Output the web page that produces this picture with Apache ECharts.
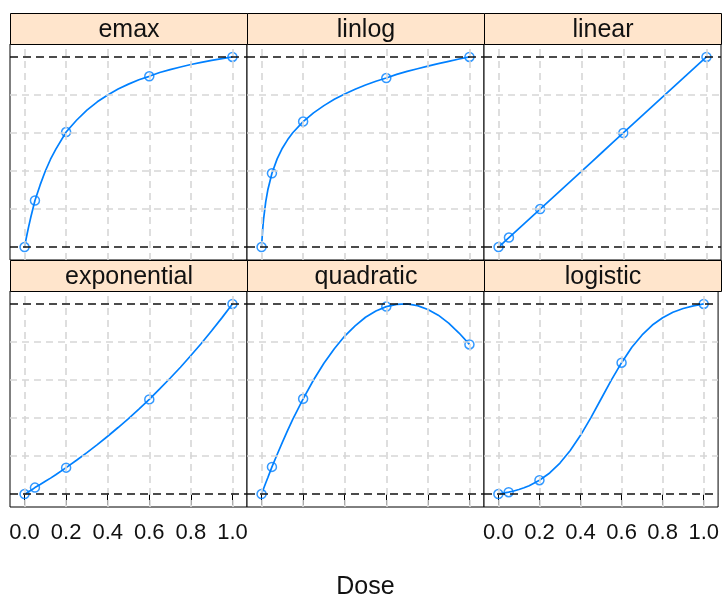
<!DOCTYPE html>
<html>
<head>
<meta charset="utf-8">
<script src="https://cdn.jsdelivr.net/npm/echarts@6/dist/echarts.min.js"></script>
<style>
  html, body { margin: 0; padding: 0; background: #fff; }
  #chart { width: 722px; height: 601px; }
</style>
</head>
<body>
<div id="chart"></div>
<script>
// panel names, in drawing order (top row, then bottom row)
const models = ['emax', 'linlog', 'linear', 'exponential', 'quadratic', 'logistic'];

// design doses (the open circles)
const doses = [0, 0.05, 0.2, 0.6, 1];

// doses where the model curves were read
const curveDose = [0, 0.005, 0.01, 0.02, 0.03, 0.05, 0.075, 0.1, 0.125, 0.15, 0.2, 0.25, 0.3, 0.35,
    0.4, 0.45, 0.5, 0.55, 0.6, 0.65, 0.7, 0.75, 0.8, 0.85, 0.9, 0.95, 1];

const emaxCurve = [0, 0.029, 0.057, 0.109, 0.157, 0.245, 0.327, 0.4, 0.462, 0.514, 0.605, 0.667, 0.72, 0.764,
    0.8, 0.831, 0.857, 0.88, 0.898, 0.918, 0.933, 0.947, 0.96, 0.971, 0.982, 0.991, 1];
const linlogCurve = [0, 0.088, 0.15, 0.238, 0.3, 0.388, 0.464, 0.52, 0.564, 0.601, 0.66, 0.706, 0.744, 0.777,
    0.805, 0.83, 0.852, 0.872, 0.889, 0.908, 0.924, 0.938, 0.952, 0.965, 0.977, 0.989, 1];
const linearCurve = [0, 0.005, 0.01, 0.02, 0.03, 0.05, 0.075, 0.1, 0.125, 0.15, 0.2, 0.25, 0.3, 0.35,
    0.4, 0.45, 0.5, 0.55, 0.6, 0.65, 0.7, 0.75, 0.8, 0.85, 0.9, 0.95, 1];
const exponentialCurve = [0, 0.003, 0.006, 0.013, 0.019, 0.034, 0.05, 0.067, 0.084, 0.102, 0.139, 0.178, 0.218, 0.26,
    0.304, 0.35, 0.397, 0.447, 0.498, 0.553, 0.609, 0.667, 0.729, 0.792, 0.859, 0.928, 1];
const quadraticCurve = [0, 0.015, 0.029, 0.058, 0.086, 0.143, 0.208, 0.272, 0.334, 0.393, 0.501, 0.6, 0.688, 0.764,
    0.831, 0.885, 0.93, 0.963, 0.986, 0.998, 1, 0.991, 0.971, 0.941, 0.899, 0.847, 0.787];
const logisticCurve = [0, 0.001, 0.002, 0.004, 0.006, 0.01, 0.016, 0.024, 0.033, 0.044, 0.073, 0.111, 0.163, 0.229,
    0.309, 0.401, 0.5, 0.599, 0.691, 0.772, 0.837, 0.889, 0.927, 0.956, 0.976, 0.99, 1];

const emaxPts = [0, 0.245, 0.605, 0.898, 1];
const linlogPts = [0, 0.388, 0.66, 0.889, 1];
const linearPts = [0, 0.05, 0.2, 0.6, 1];
const exponentialPts = [0, 0.034, 0.139, 0.498, 1];
const quadraticPts = [0, 0.143, 0.501, 0.986, 0.787];
const logisticPts = [0, 0.01, 0.073, 0.691, 1];

// reference lines and grid
const gridVals = [0, 0.2, 0.4, 0.6, 0.8, 1];
const refLines = [0, 1];
const tickLabels = ['0.0', '0.2', '0.4', '0.6', '0.8', '1.0'];

const curves = [emaxCurve, linlogCurve, linearCurve, exponentialCurve, quadraticCurve, logisticCurve];
const points = [emaxPts, linlogPts, linearPts, exponentialPts, quadraticPts, logisticPts];

const FONT = '"Liberation Sans", Arial, sans-serif';
const BLUE = '#0080ff';

// panel layout
const colLeft = [10, 247, 484];
const panelW = 237;
const stripTop = [13, 260];
const stripH = 31;
const plotH = 216;

const grids = [];
const xAxes = [];
const yAxes = [];
const series = [];
const graphics = [];

models.forEach((name, i) => {
    const row = Math.floor(i / 3);
    const col = i % 3;
    const bottom = row === 1;

    grids.push({
        left: colLeft[col],
        top: stripTop[row] + stripH,
        width: panelW,
        height: plotH,
        show: true,
        borderColor: '#000',
        borderWidth: 1,
        backgroundColor: '#fff',
    });

    xAxes.push({
        type: 'value',
        gridIndex: i,
        min: -0.07,
        max: 1.07,
        axisLine: { show: false },
        splitLine: { show: false },
        axisTick: {
            show: bottom,
            inside: false,
            length: 11,
            customValues: gridVals,
            lineStyle: { color: '#000', width: 1 },
        },
        axisLabel: {
            show: bottom && col !== 1,
            customValues: gridVals,
            margin: 15,
            fontFamily: FONT,
            fontSize: 22,
            color: '#111',
            formatter: (v) => tickLabels[gridVals.findIndex((g) => Math.abs(g - v) < 1e-6)],
        },
        name: bottom && col === 1 ? 'Dose' : '',
        nameLocation: 'middle',
        nameGap: 68,
        nameTextStyle: { fontFamily: FONT, fontSize: 25, color: '#111' },
    });

    yAxes.push({
        type: 'value',
        gridIndex: i,
        min: -0.068,
        max: 1.068,
        axisLine: { show: false },
        axisTick: { show: false },
        axisLabel: { show: false },
        splitLine: { show: false },
    });

    // gray dashed grid + black dashed reference lines
    series.push({
        type: 'line',
        xAxisIndex: i,
        yAxisIndex: i,
        data: [],
        z: 1,
        silent: true,
        markLine: {
            silent: true,
            symbol: 'none',
            animation: false,
            label: { show: false },
            lineStyle: { color: '#d6d6d6', type: [7, 5], width: 1.6 },
            data: [
                ...gridVals.map((v) => ({ xAxis: v })),
                ...gridVals.filter((v) => !refLines.includes(v)).map((v) => ({ yAxis: v })),
                ...refLines.map((v) => ({
                    yAxis: v,
                    lineStyle: { color: '#111', type: [8, 5], width: 1.6 },
                })),
            ],
        },
    });

    series.push({
        name: name,
        type: 'line',
        xAxisIndex: i,
        yAxisIndex: i,
        data: curveDose.map((d, k) => [d, curves[i][k]]),
        showSymbol: false,
        smooth: false,
        z: 3,
        lineStyle: { color: BLUE, width: 1.7 },
        animation: false,
    });

    series.push({
        type: 'scatter',
        xAxisIndex: i,
        yAxisIndex: i,
        data: doses.map((d, k) => [d, points[i][k]]),
        symbol: 'circle',
        symbolSize: 9,
        z: 4,
        itemStyle: { color: 'rgba(0,0,0,0)', borderColor: BLUE, borderWidth: 1.5 },
        animation: false,
    });

    // strip header
    graphics.push({
        type: 'group',
        left: colLeft[col],
        top: stripTop[row],
        children: [
            {
                type: 'rect',
                shape: { x: 0, y: 0, width: panelW, height: stripH },
                style: { fill: '#ffe5cc', stroke: '#000', lineWidth: 1 },
            },
            {
                type: 'text',
                x: panelW / 2,
                y: stripH / 2 + 1,
                style: {
                    text: name,
                    fill: '#111',
                    font: '25px ' + FONT,
                    textAlign: 'center',
                    textVerticalAlign: 'middle',
                },
            },
        ],
    });
});

const chart = echarts.init(document.getElementById('chart'), null, { renderer: 'canvas' });
chart.setOption({
    backgroundColor: '#fff',
    animation: false,
    grid: grids,
    xAxis: xAxes,
    yAxis: yAxes,
    series: series,
    graphic: graphics,
});
</script>
</body>
</html>
